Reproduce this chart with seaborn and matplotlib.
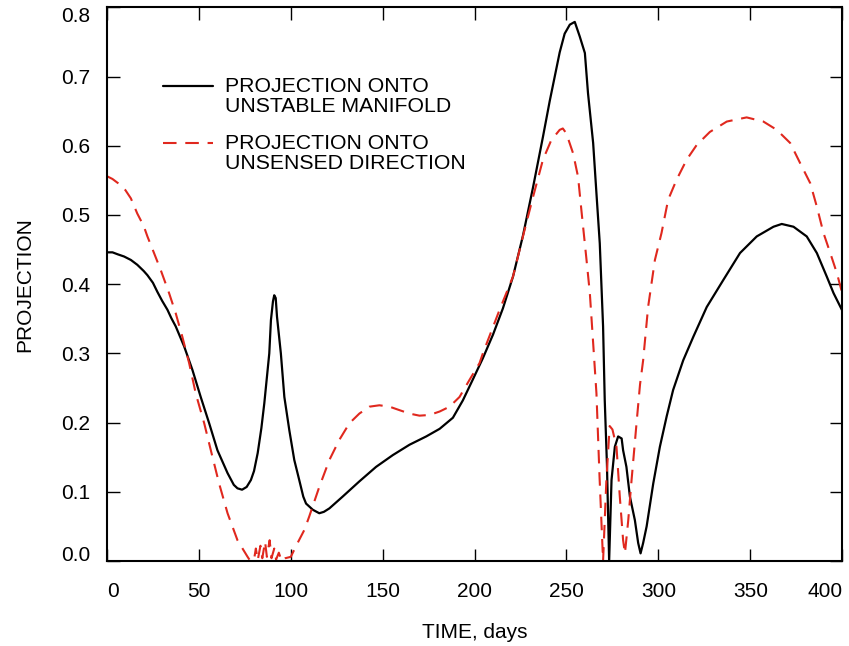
import matplotlib
matplotlib.use("Agg")
import matplotlib.pyplot as plt
import seaborn as sns
import pandas as pd
import numpy as np
from matplotlib.legend_handler import HandlerLine2D

# curves (time in days, projection value)
day_unstable = [0, 3, 6, 9.3, 13, 16.5, 20, 22, 25, 27.4, 30, 32.9, 35, 37.4, 42, 46.5, 51, 55.6,
                60.1, 65.6, 69, 71, 73.5, 76, 78.3, 80, 82, 84, 85.6, 88.3, 89.2, 90.3, 91, 91.8,
                92.5, 94.6, 96.5, 99.2, 101.9, 104.6, 106.8, 108.3, 112, 115.5, 118, 121, 128.2,
                137.3, 146.4, 155.5, 164.6, 173.7, 181, 188.2, 193.6, 199, 204.5, 210, 215.4,
                220.9, 226.3, 231.8, 237.2, 240.9, 246.3, 249, 251.8, 254.5, 257.2, 260, 261.7,
                264.5, 266.3, 268.1, 269.9, 270.8, 272, 273.2, 274.5, 276.3, 278.1, 280, 280.8,
                282.6, 284.5, 287.2, 289, 290.3, 291.7, 293.6, 297.2, 300.8, 304.5, 308, 313.5,
                319, 326.3, 335.3, 344.4, 353.5, 362.6, 367.1, 373.5, 380.7, 386.2, 391.6, 395.3, 400]
val_unstable = [0.446, 0.446, 0.443, 0.440, 0.435, 0.428, 0.419, 0.413, 0.402, 0.389, 0.376, 0.363,
                0.351, 0.339, 0.310, 0.276, 0.237, 0.199, 0.160, 0.127, 0.110, 0.105, 0.103, 0.107,
                0.117, 0.130, 0.156, 0.192, 0.228, 0.300, 0.348, 0.375, 0.384, 0.380, 0.353, 0.300,
                0.237, 0.189, 0.146, 0.117, 0.093, 0.083, 0.074, 0.069, 0.071, 0.076, 0.093, 0.115,
                0.136, 0.153, 0.168, 0.180, 0.191, 0.207, 0.232, 0.262, 0.293, 0.327, 0.365, 0.411,
                0.470, 0.540, 0.613, 0.665, 0.735, 0.762, 0.775, 0.779, 0.758, 0.734, 0.676, 0.604,
                0.531, 0.459, 0.339, 0.233, 0.140, 0.0, 0.117, 0.165, 0.180, 0.177, 0.160, 0.136,
                0.093, 0.059, 0.026, 0.011, 0.026, 0.050, 0.112, 0.165, 0.209, 0.247, 0.290, 0.324,
                0.367, 0.406, 0.445, 0.469, 0.483, 0.487, 0.483, 0.469, 0.445, 0.411, 0.387, 0.362]

day_unsensed = [0, 3, 6, 10, 13, 16.5, 20, 22, 25.6, 29.3, 33.8, 37.4, 41, 44.7, 48.3, 52.9, 56.5,
                61, 65.6, 71, 76.5, 78, 80, 81, 82, 83.5, 84.5, 86, 87, 88.5, 89.5, 91, 92, 93.5,
                95, 97, 100, 103.7, 107.4, 110, 115.5, 121, 126.4, 131.9, 137.3, 142.8, 148.2,
                153.7, 159.1, 164.6, 170, 175.5, 181, 186.4, 191.8, 197.3, 202.7, 204.5, 213.6,
                220.9, 226.3, 231.8, 237.2, 241.7, 246.3, 248, 249.9, 253.6, 256.3, 258.1, 260.9,
                262.7, 264.5, 266.3, 268, 269.9, 271.7, 273.5, 275, 277.2, 279, 280.8, 281.8, 283.6,
                285.4, 288.1, 290, 291.7, 294.4, 298.1, 301.7, 305.3, 309.9, 315.4, 320.8, 328,
                337.2, 348, 357.1, 364.4, 371.7, 377.1, 382.6, 386.2, 389.8, 393.5, 397.1, 400]
val_unsensed = [0.556, 0.552, 0.546, 0.536, 0.524, 0.502, 0.484, 0.469, 0.445, 0.420, 0.387, 0.358,
                0.324, 0.286, 0.242, 0.199, 0.160, 0.112, 0.069, 0.030, 0.006, 0.0, 0.002, 0.018,
                0.001, 0.022, 0.004, 0.028, 0.006, 0.030, 0.004, 0.018, 0.002, 0.012, 0.0, 0.004,
                0.006, 0.026, 0.045, 0.064, 0.107, 0.146, 0.175, 0.199, 0.213, 0.223, 0.225, 0.223,
                0.218, 0.213, 0.210, 0.211, 0.216, 0.223, 0.237, 0.262, 0.286, 0.300, 0.363, 0.411,
                0.469, 0.526, 0.580, 0.608, 0.623, 0.625, 0.618, 0.589, 0.555, 0.507, 0.435, 0.387,
                0.315, 0.242, 0.120, 0.0, 0.117, 0.195, 0.190, 0.165, 0.093, 0.030, 0.011, 0.059,
                0.117, 0.199, 0.255, 0.290, 0.367, 0.435, 0.474, 0.522, 0.551, 0.580, 0.601, 0.620,
                0.635, 0.641, 0.635, 0.623, 0.604, 0.575, 0.546, 0.512, 0.474, 0.445, 0.416, 0.387]

x_ticks = [0, 50, 100, 150, 200, 250, 300, 350, 400]
y_ticks = [0.0, 0.1, 0.2, 0.3, 0.4, 0.5, 0.6, 0.7, 0.8]

df_u = pd.DataFrame({"day": day_unstable, "proj": val_unstable})
df_s = pd.DataFrame({"day": day_unsensed, "proj": val_unsensed})

sns.set_style("ticks")
plt.rcParams["font.family"] = ["Liberation Sans", "DejaVu Sans"]
plt.rcParams["text.color"] = "black"
plt.rcParams["axes.labelcolor"] = "black"


# legend handle sits next to the first line of a two-line label
class FirstLineHandler(HandlerLine2D):
    def create_artists(self, legend, orig_handle, xdescent, ydescent, width, height,
                       fontsize, trans):
        arts = super().create_artists(legend, orig_handle, xdescent, ydescent, width,
                                      height, fontsize, trans)
        for a in arts:
            a.set_ydata(np.asarray(a.get_ydata()) + 7.5)
        return arts


fig = plt.figure(figsize=(8.49, 6.46), dpi=100)
ax = fig.add_axes([0.126, 0.1316, 0.866, 0.857])

red = "#e0281e"
sns.lineplot(data=df_u, x="day", y="proj", ax=ax, color="black", lw=1.6,
             estimator=None, label="PROJECTION ONTO\nUNSTABLE MANIFOLD")
sns.lineplot(data=df_s, x="day", y="proj", ax=ax, color=red, lw=1.5,
             estimator=None, label="PROJECTION ONTO\nUNSENSED DIRECTION")
ax.lines[1].set_linestyle((0, (6.5, 4.2)))

ax.set_xlim(0, 400)
ax.set_ylim(0, 0.8)
ax.set_xticks(x_ticks)
ax.set_yticks(y_ticks)
ax.set_xticklabels([str(v) for v in x_ticks])
ax.set_yticklabels([f"{v:.1f}" for v in y_ticks])
ax.tick_params(direction="in", length=9, width=1, top=True, right=True,
               labelsize=15, colors="black")
ax.tick_params(axis="x", pad=15)
ax.tick_params(axis="y", pad=12)
xl = ax.get_xticklabels()
xl[0].set_ha("left")
xl[-1].set_ha("right")
yl = ax.get_yticklabels()
yl[0].set_va("baseline")
yl[-1].set_va("top")

for s in ax.spines.values():
    s.set_linewidth(1.5)
    s.set_color("black")

ax.set_xlabel("TIME, days", fontsize=15, labelpad=16)
ax.set_ylabel("PROJECTION", fontsize=15, labelpad=19)

handles, labels = ax.get_legend_handles_labels()
leg = ax.legend(handles, labels, loc="upper left", bbox_to_anchor=(0.076, 0.875),
                frameon=False, fontsize=15.3, handlelength=2.35, handletextpad=0.57,
                labelspacing=0.85, borderpad=0, borderaxespad=0,
                handler_map={h: FirstLineHandler() for h in handles})
for t in leg.get_texts():
    t.set_linespacing(1.08)
    t.set_color("black")

fig.savefig("out.png", dpi=100)
